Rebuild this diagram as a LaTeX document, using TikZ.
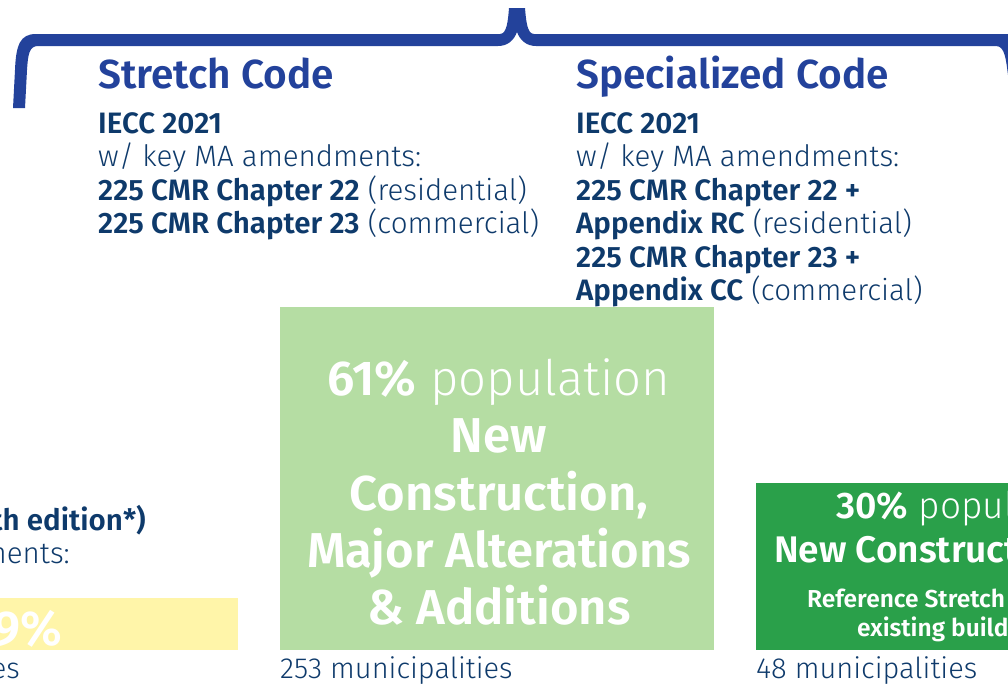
\documentclass[tikz,border=0pt]{standalone}
\usepackage{fontspec}
\setmainfont{Fira Sans}[UprightFont={* Light},BoldFont={* SemiBold}]

\definecolor{bracecol}{HTML}{23429B}
\definecolor{navy}{HTML}{0E3A6B}
\definecolor{lightgreen}{HTML}{B5DDA3}
\definecolor{darkgreen}{HTML}{2AA04A}
\definecolor{paleyellow}{HTML}{FFF5A9}

\tikzset{
  codetitle/.style={anchor=base west,inner sep=0,text=bracecol,font=\fontsize{40.5}{40}\selectfont\bfseries},
  codeline/.style={anchor=base west,inner sep=0,text=navy,font=\fontsize{29.5}{30}\selectfont},
  sharebox/.style={anchor=north west,inner sep=0,draw=none},
  bigwhite/.style={anchor=base,inner sep=0,text=white,font=\fontsize{49}{49}\selectfont},
  midwhite/.style={anchor=base west,inner sep=0,text=white,font=\fontsize{37}{37}\selectfont},
  smallwhite/.style={anchor=base west,inner sep=0,text=white,font=\fontsize{24.5}{25}\selectfont\bfseries},
  muni/.style={anchor=base west,inner sep=0,text=navy,font=\fontsize{29}{29}\selectfont}
}

\begin{document}
\begin{tikzpicture}[x=1pt,y=-1pt]
  \useasboundingbox (0,0) rectangle (1008,688);
  \clip (0,0) rectangle (1008,688);

  % curly brace over the two code columns
  \fill[bracecol] (13,108) -- (15,70) .. controls (16,45) and (20,34) .. (36,34)
    -- (500,34) .. controls (507,34) and (508,20) .. (509,8) -- (525,8)
    .. controls (526,20) and (527,34) .. (534,34) -- (1020,34) -- (1020,75) -- (1008,75)
    .. controls (1006,60) and (1005,46) .. (996,46) -- (536,46)
    .. controls (526,46) and (520,40) .. (517,32) .. controls (514,40) and (508,46) .. (498,46)
    -- (38,46) .. controls (29,46) and (28,55) .. (27,70) -- (25,108) -- cycle;

  % stretch code column
  \node[codetitle] (stretch) at (98,88) {Stretch Code};
  \node[codeline] (stretchiecc) at (98,133) {\bfseries IECC 2021};
  \node[codeline] (stretchamend) at (98,166) {w/ key MA amendments:};
  \node[codeline] (stretchres) at (98,200) {\textbf{225 CMR Chapter 22} (residential)};
  \node[codeline] (stretchcom) at (98,233) {\textbf{225 CMR Chapter 23} (commercial)};

  % specialized code column
  \node[codetitle] (special) at (576,88) {Specialized Code};
  \node[codeline] (specialiecc) at (576,133) {\bfseries IECC 2021};
  \node[codeline] (specialamend) at (576,166) {w/ key MA amendments:};
  \node[codeline] (specialres) at (576,200) {\bfseries 225 CMR Chapter 22 +};
  \node[codeline] (specialrc) at (576,233) {\textbf{Appendix RC} (residential)};
  \node[codeline] (specialcom) at (576,267) {\bfseries 225 CMR Chapter 23 +};
  \node[codeline] (specialcc) at (576,300) {\textbf{Appendix CC} (commercial)};

  % base code column, mostly off to the left
  \node[codeline,anchor=base east] (baseed) at (146,530) {\bfseries th edition*)};
  \node[codeline,anchor=base east] (baseamend) at (70,563) {w/ key MA amendments:};
  \node[sharebox,fill=paleyellow,minimum width=250pt,minimum height=52pt] (basebox) at (-12,598) {};
  \node[bigwhite,anchor=base east] (basepct) at (62,645) {\bfseries 9\%};
  \node[muni,anchor=base east] (basemuni) at (20,678) {municipalities};

  % stretch code share
  \node[sharebox,fill=lightgreen,minimum width=434pt,minimum height=343pt] (stretchbox) at (280,307) {};
  \node[bigwhite] (stretchpct) at (499,395) {\textbf{61\%} population};
  \node[bigwhite] (stretchnew) at (499,452) {\bfseries New};
  \node[bigwhite] (stretchcon) at (499,510) {\bfseries Construction,};
  \node[bigwhite] (stretchmaj) at (499,567) {\bfseries Major Alterations};
  \node[bigwhite] (stretchadd) at (499,624) {\bfseries \& Additions};
  \node[muni] (stretchmuni) at (280,678) {253 municipalities};

  % specialized code share
  \node[sharebox,fill=darkgreen,minimum width=300pt,minimum height=167pt] (specialbox) at (756,483) {};
  \node[midwhite] (specialpct) at (836,518) {\textbf{30\%} population};
  \node[midwhite] (specialnew) at (774,562) {\bfseries New Construction};
  \node[smallwhite] (specialref) at (807,607) {Reference Stretch};
  \node[smallwhite] (specialexist) at (857,636) {existing buildings};
  \node[muni] (specialmuni) at (756,678) {48 municipalities};
\end{tikzpicture}
\end{document}
